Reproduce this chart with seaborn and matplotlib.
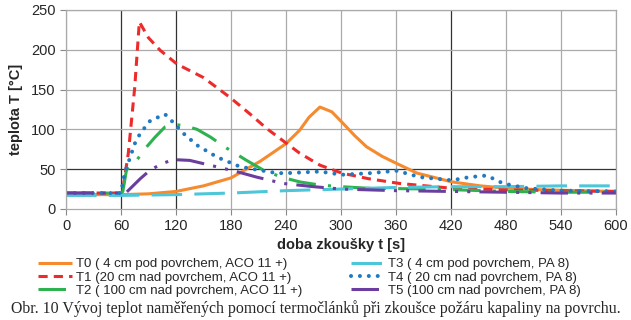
import matplotlib
matplotlib.use('Agg')
import matplotlib.pyplot as plt
import seaborn as sns

sns.set_style('white')
plt.rcParams['font.family'] = ['Liberation Sans', 'DejaVu Sans']

# T0 (4 cm pod povrchem, ACO 11 +)
t0_x = [0, 60, 90, 120, 150, 180, 212, 240, 255, 265, 277, 290, 301, 315, 328, 345, 361, 383, 421, 452, 481, 520, 560, 600]
t0_y = [18, 18, 19, 22, 29, 39, 60, 82, 99, 115, 128, 122, 109, 92, 78, 66, 57, 45, 34, 29, 26, 24, 23, 22]
# T1 (20 cm nad povrchem, ACO 11 +)
t1_x = [0, 55, 60, 62, 68, 75, 80, 90, 103, 121, 150, 179, 200, 219, 241, 255, 277, 301, 330, 364, 421, 480, 540, 600]
t1_y = [20, 20, 20, 25, 70, 153, 235, 215, 199, 182, 165, 140, 120, 101, 82, 70, 55, 45, 38, 32, 26, 24, 23, 22]
# T2 (100 cm nad povrchem, ACO 11 +)
t2_x = [0, 60, 62, 66, 77, 88, 97, 108, 117, 128, 143, 158, 173, 197, 215, 235, 255, 277, 300, 330, 400, 480, 540, 600]
t2_y = [20, 20, 22, 49, 61, 78, 90, 103, 106, 105, 100, 90, 78, 61, 49, 40, 34, 30, 28, 26, 25, 22, 21, 21]
# T3 (4 cm pod povrchem, PA 8)
t3_x = [0, 60, 120, 180, 240, 300, 360, 420, 480, 540, 600]
t3_y = [17, 17, 18, 20, 23, 25, 27, 28, 28, 29, 29]
# T4 (20 cm nad povrchem, PA 8)
t4_x = [0, 60, 64, 70, 75, 81, 92, 108, 115, 128, 143, 165, 190, 230, 241, 277, 301, 332, 361, 386, 421, 440, 459, 477, 503, 540, 600]
t4_y = [20, 20, 45, 65, 82, 95, 111, 119, 111, 95, 80, 65, 53, 45, 45, 47, 43, 45, 48, 40, 36, 40, 42, 32, 26, 23, 22]
# T5 (100 cm nad povrchem, PA 8)
t5_x = [0, 60, 66, 81, 92, 105, 117, 135, 157, 186, 208, 237, 270, 300, 360, 420, 480, 540, 600]
t5_y = [20, 20, 21, 38, 49, 57, 62, 61, 55, 47, 40, 32, 28, 25, 23, 22, 21, 20, 20]

labels = ['T0 ( 4 cm pod povrchem, ACO 11 +)',
          'T1 (20 cm nad povrchem, ACO 11 +)',
          'T2 ( 100 cm nad povrchem, ACO 11 +)',
          'T3 ( 4 cm pod povrchem, PA 8)',
          'T4 ( 20 cm nad povrchem, PA 8)',
          'T5 (100 cm nad povrchem, PA 8)']
series = [(t0_x, t0_y), (t1_x, t1_y), (t2_x, t2_y),
          (t3_x, t3_y), (t4_x, t4_y), (t5_x, t5_y)]
colors = ['#F58A2E', '#EE2B2B', '#2DB24F', '#4CC6D8', '#2179C0', '#6A3D9E']
styles = ['-', (0, (3, 2)), (0, (9, 4, 1, 4)), (0, (10, 4)),
          (0, (0.01, 2.2)), (0, (9, 3, 1, 3, 1, 3))]
widths = [2.2, 2.2, 2.2, 2.2, 2.9, 2.2]
caps = ['butt', 'butt', 'butt', 'butt', 'round', 'butt']

fig = plt.figure(figsize=(6.31, 3.2), dpi=100)
ax = fig.add_axes([0.1046, 0.347, 0.8716, 0.622])

for (x, y), lab, c, ls, lw, cap in zip(series, labels, colors, styles, widths, caps):
    sns.lineplot(x=x, y=y, ax=ax, color=c, linestyle=ls, linewidth=lw,
                 label=lab, solid_capstyle=cap, dash_capstyle=cap)

ax.set_xlim(0, 600)
ax.set_ylim(0, 250)
ax.set_xticks(range(0, 601, 60))
ax.set_yticks(range(0, 251, 50))
for v in range(0, 601, 60):
    dark = v in (60, 120, 420)
    ax.axvline(v, color='#333333' if dark else '#AAAAAA', lw=0.9, zorder=0)
for v in range(50, 251, 50):
    ax.axhline(v, color='#333333' if v == 50 else '#AAAAAA', lw=0.9, zorder=0)
for s in ax.spines.values():
    s.set_color('#AAAAAA')
    s.set_linewidth(0.9)
ax.tick_params(axis='both', length=4, color='#888888', labelsize=10.5,
               direction='out', bottom=True, left=True)
ax.set_xlabel('doba zkoušky t [s]', fontsize=10.5, fontweight='bold', labelpad=3)
ax.set_ylabel('teplota T [°C]', fontsize=10.5, fontweight='bold', labelpad=6)

h, l = ax.get_legend_handles_labels()
ax.get_legend().remove()
fig.legend(h, l, ncol=2, loc='upper left', bbox_to_anchor=(0.052, 0.21),
           frameon=False, fontsize=9.5, handlelength=2.6, handletextpad=0.25,
           columnspacing=3.7, labelspacing=0.08, borderaxespad=0)

fig.text(0.5, 0.035, 'Obr. 10 Vývoj teplot naměřených pomocí termočlánků při zkoušce požáru kapaliny na povrchu.',
         ha='center', va='center', fontsize=11.4, family=['Liberation Serif', 'DejaVu Serif'])

fig.savefig('out.png', dpi=100)
